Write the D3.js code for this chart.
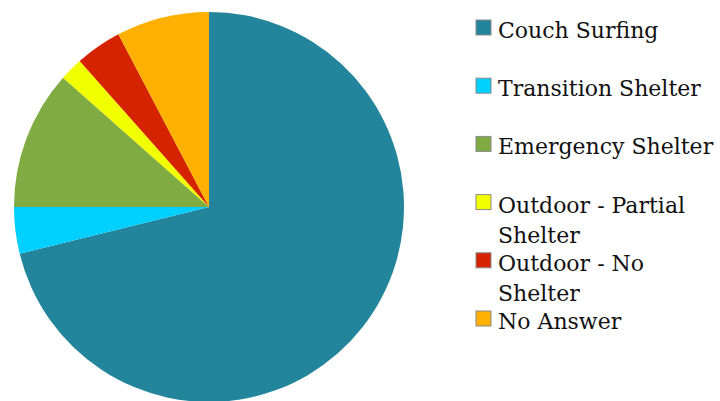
<!DOCTYPE html>
<html>
<head>
<meta charset="utf-8">
<script src="https://cdn.jsdelivr.net/npm/d3@7"></script>
<style>
  body { margin: 0; background: #fff; }
  text { font-family: "DejaVu Serif", serif; }
</style>
</head>
<body>
<div id="pie"></div>
<script>
// respondents by where they slept
const categories = ["Couch Surfing", "Transition Shelter", "Emergency Shelter",
                    "Outdoor - Partial Shelter", "Outdoor - No Shelter", "No Answer"];
const counts = [37, 2, 6, 1, 2, 4];
const colors = ["#23859c", "#00d0ff", "#7fab42", "#f2ff00", "#d52300", "#ffb000"];
// how each legend entry breaks onto lines
const legendLines = [["Couch Surfing"], ["Transition Shelter"], ["Emergency Shelter"],
                     ["Outdoor - Partial", "Shelter"], ["Outdoor - No", "Shelter"], ["No Answer"]];

function drawPie()
{
    var width = 720;
    var height = 401;
    var radius = 195;

    var svg = d3.select("#pie")
        .append("svg")
        .attr("width", width)
        .attr("height", height);

    var pie = d3.pie()
        .sort(null)
        .value(function(d) { return d; });

    var arc = d3.arc()
        .innerRadius(0)
        .outerRadius(radius);

    // pie starts at 12 o'clock and runs clockwise
    svg.append("g")
        .attr("transform", "translate(209,207)")
        .selectAll("path")
        .data(pie(counts))
        .enter()
        .append("path")
        .attr("d", arc)
        .style("fill", function(d, i) { return colors[i] });

    // legend
    var legend = svg.append("g")
        .attr("transform", "translate(476,0)");

    var rows = legend.selectAll("g")
        .data(categories)
        .enter()
        .append("g")
        .attr("transform", function(d, i) { return "translate(0," + (20 + i * 58.2) + ")" });

    rows.append("rect")
        .attr("width", 15)
        .attr("height", 15)
        .style("fill", function(d, i) { return colors[i] })
        .style("stroke", "#8a8a8a")
        .style("stroke-width", 1);

    rows.append("text")
        .attr("x", 22)
        .attr("y", 18)
        .style("font-size", "22px")
        .style("fill", "#111")
        .selectAll("tspan")
        .data(function(d, i) { return legendLines[i] })
        .enter()
        .append("tspan")
        .attr("x", 22)
        .attr("dy", function(d, j) { return j == 0 ? 0 : 30 })
        .text(function(d) { return d });
}

drawPie();
</script>
</body>
</html>
